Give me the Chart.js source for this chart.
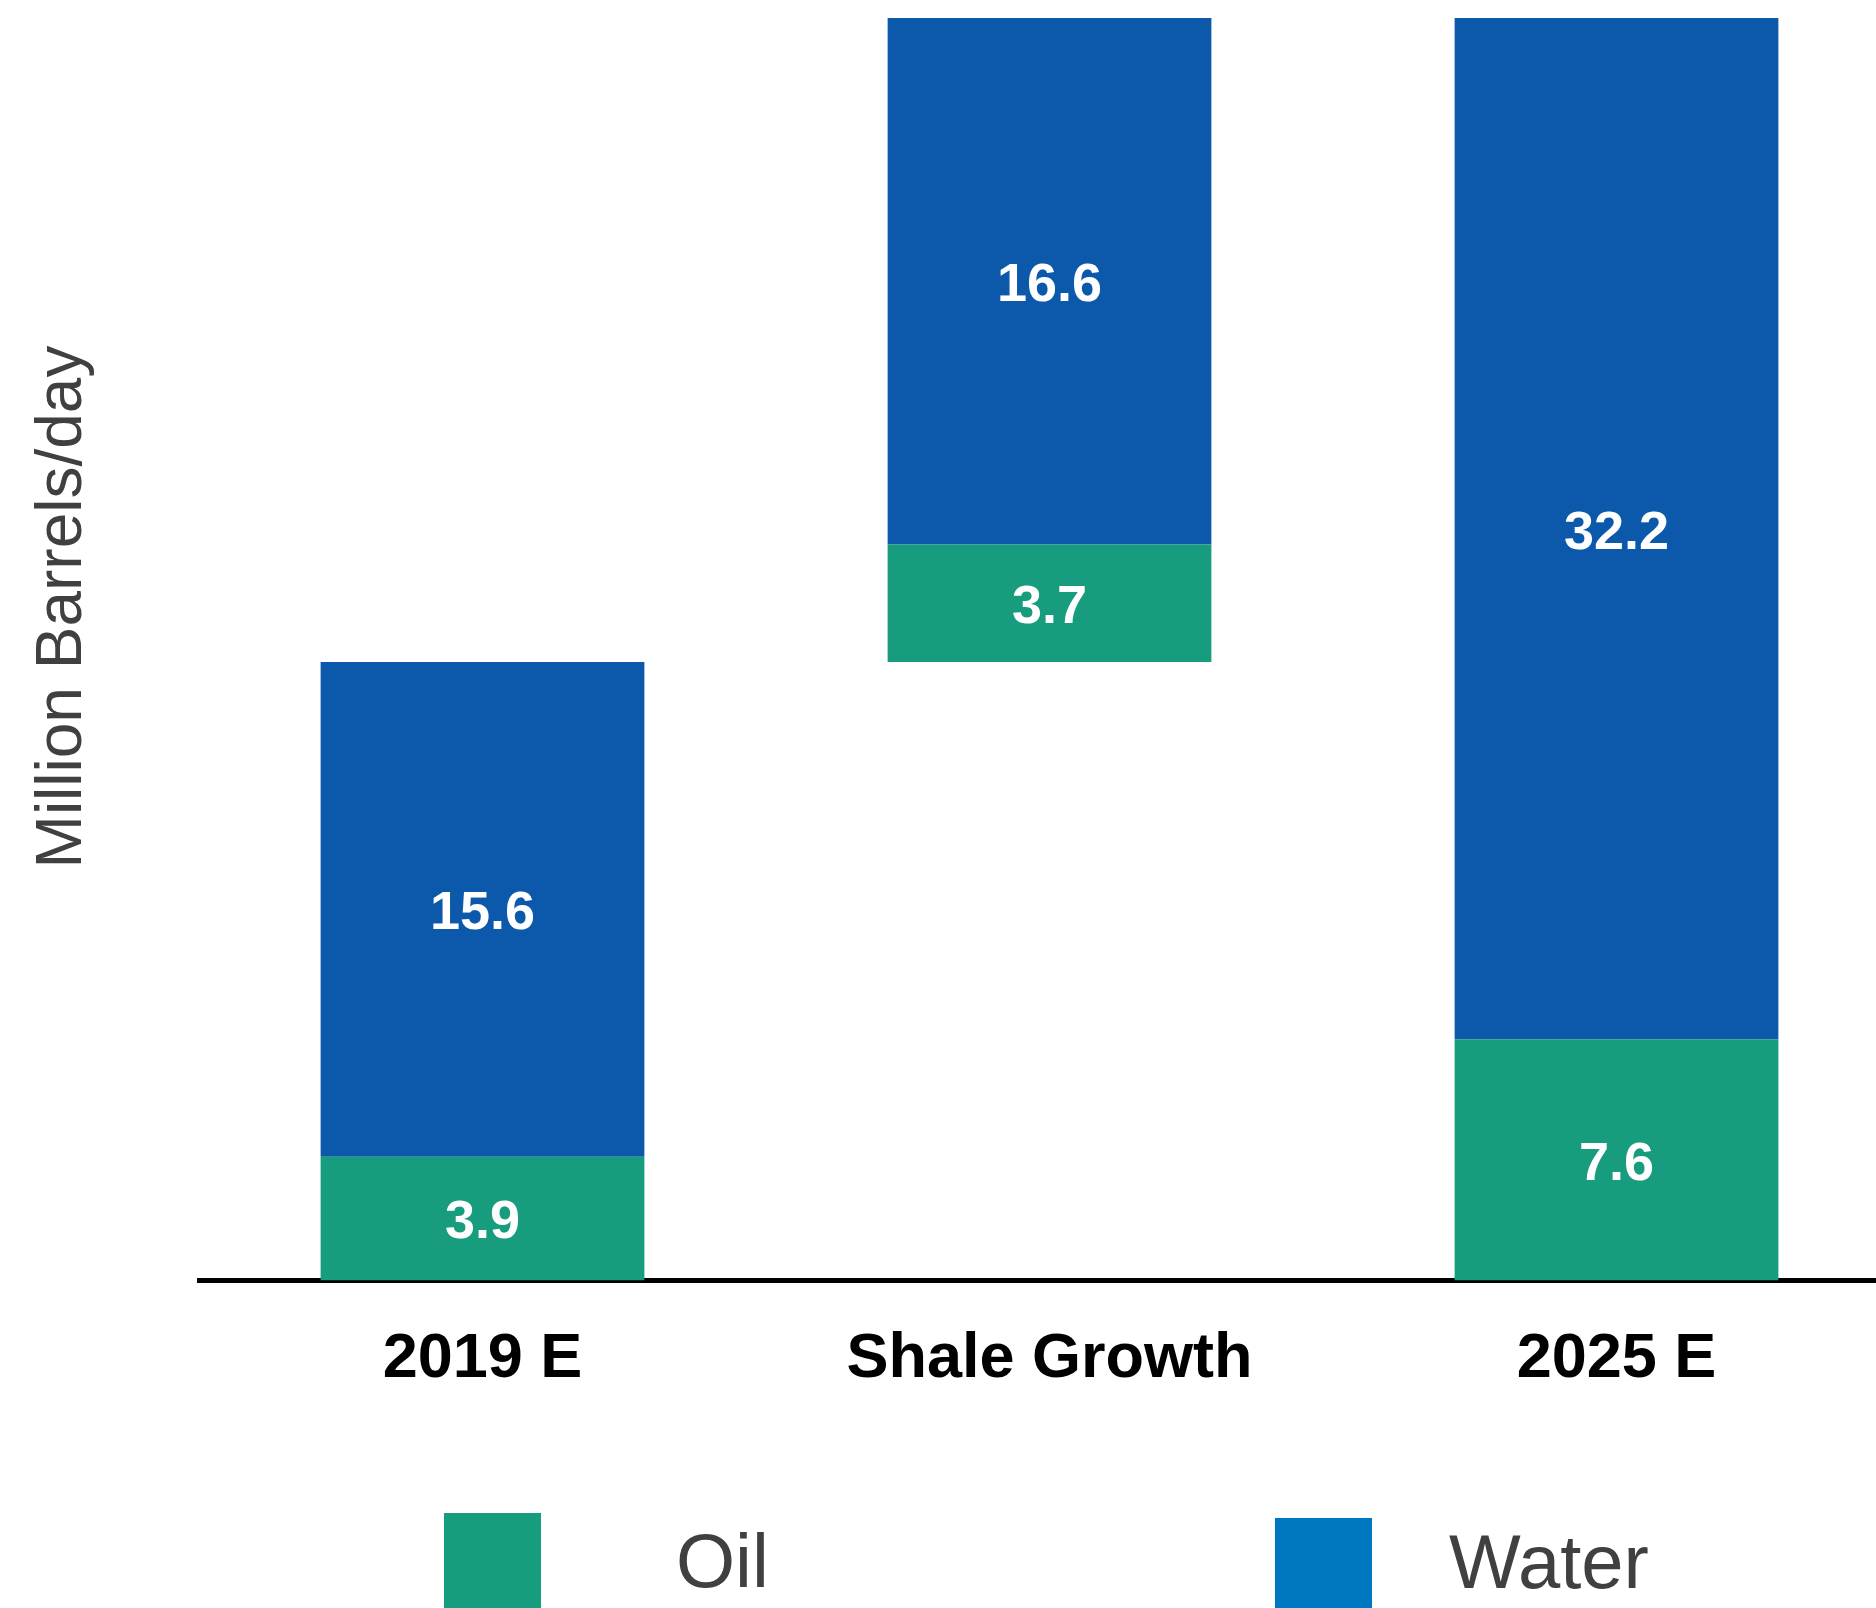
<!DOCTYPE html>
<html>
<head>
<meta charset="utf-8">
<title>Oil and water volumes</title>
<script src="https://cdn.jsdelivr.net/npm/chart.js@4/dist/chart.umd.min.js"></script>
<style>
  html, body { margin: 0; padding: 0; background: #fff; overflow: hidden; }
  #volumeChart { display: block; }
</style>
</head>
<body>
<canvas id="volumeChart" width="1900" height="1608"></canvas>
<script>
const categories = ["2019 E", "Shale Growth", "2025 E"];
const oilValues = [3.9, 3.7, 7.6];
const waterValues = [15.6, 16.6, 32.2];

// the growth bar floats on top of the 2019 total
const baseValues = [0, oilValues[0] + waterValues[0], 0];
const axisMax = oilValues[2] + waterValues[2];

const FONT = "'Liberation Sans', Arial, sans-serif";
const OIL_COLOR = "#179c7d";
const WATER_COLOR = "#0c59ab";

// white value text in the middle of each visible segment
const segmentLabels = {
  id: "segmentLabels",
  afterDatasetsDraw(chart) {
    const ctx = chart.ctx;
    ctx.save();
    ctx.fillStyle = "#ffffff";
    ctx.font = `bold 54px ${FONT}`;
    ctx.textAlign = "center";
    ctx.textBaseline = "middle";
    chart.data.datasets.forEach((dataset, i) => {
      if (dataset.isBase) return;
      chart.getDatasetMeta(i).data.forEach((bar, j) => {
        const value = dataset.data[j];
        const mid = (bar.y + bar.base) / 2;
        ctx.fillText(value.toFixed(1), bar.x, mid + 5);
      });
    });
    ctx.restore();
  },
};

// rotated axis title on the left
const axisTitle = {
  id: "axisTitle",
  afterDraw(chart) {
    const ctx = chart.ctx;
    ctx.save();
    ctx.translate(81, 607);
    ctx.rotate(-Math.PI / 2);
    ctx.font = `64px ${FONT}`;
    ctx.fillStyle = "#404040";
    ctx.textAlign = "center";
    ctx.textBaseline = "alphabetic";
    ctx.fillText("Million Barrels/day", 0, 0);
    ctx.restore();
  },
};

// legend row at the bottom, swatches run off the lower edge
const bottomLegend = {
  id: "bottomLegend",
  afterDraw(chart, args, opts) {
    const ctx = chart.ctx;
    ctx.save();
    ctx.font = `76px ${FONT}`;
    ctx.fillStyle = "#404040";
    ctx.textBaseline = "alphabetic";
    opts.items.forEach((item) => {
      const dataset = chart.data.datasets[item.dataset];
      ctx.fillStyle = item.color || dataset.backgroundColor;
      ctx.fillRect(item.boxX, item.boxY, 97, 200);
      ctx.fillStyle = "#404040";
      ctx.fillText(dataset.label, item.textX, item.baseline);
    });
    ctx.restore();
  },
};

new Chart(document.getElementById("volumeChart"), {
  type: "bar",
  data: {
    labels: categories,
    datasets: [
      {
        label: "",
        data: baseValues,
        backgroundColor: "rgba(0, 0, 0, 0)",
        isBase: true,
      },
      {
        label: "Oil",
        data: oilValues,
        backgroundColor: OIL_COLOR,
      },
      {
        label: "Water",
        data: waterValues,
        backgroundColor: WATER_COLOR,
      },
    ],
  },
  options: {
    responsive: false,
    animation: false,
    events: [],
    categoryPercentage: 1,
    barPercentage: 0.571,
    layout: {
      padding: { left: 199, right: 0, top: 18, bottom: 178 },
    },
    plugins: {
      legend: { display: false },
      tooltip: { enabled: false },
      bottomLegend: {
        items: [
          { dataset: 1, boxX: 444, boxY: 1513, textX: 676, baseline: 1587 },
          { dataset: 2, color: "#0078c1", boxX: 1275, boxY: 1518, textX: 1449, baseline: 1588 },
        ],
      },
    },
    scales: {
      x: {
        stacked: true,
        z: 1,
        grid: { display: false },
        border: { color: "#000000", width: 5 },
        ticks: {
          color: "#000000",
          padding: 33,
          font: { family: FONT, size: 63, weight: "bold" },
        },
      },
      y: {
        stacked: true,
        display: false,
        min: 0,
        max: axisMax,
      },
    },
  },
  plugins: [segmentLabels, axisTitle, bottomLegend],
});
</script>
</body>
</html>
